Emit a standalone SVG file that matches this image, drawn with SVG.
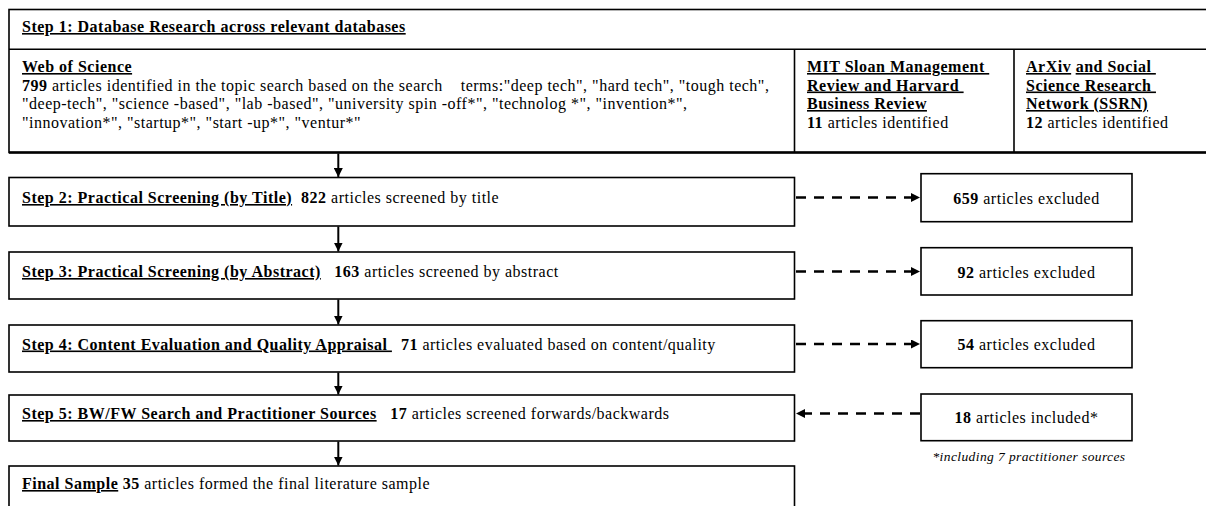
<svg xmlns="http://www.w3.org/2000/svg" width="1206" height="506" viewBox="0 0 1206 506">
<defs>
<style>
text{font-family:"Liberation Serif","Times New Roman",serif;font-size:16px;letter-spacing:0.5px;fill:#000;white-space:pre}
.b{font-weight:bold}
.u{text-decoration:underline}
.c{text-anchor:middle}
.fn{font-size:13.5px;font-style:italic;letter-spacing:0.4px}
.box{fill:#fff;stroke:#000;stroke-width:1.6}
.ln{stroke:#000;stroke-width:1.6;fill:none}
.arr{stroke:#000;stroke-width:2;fill:none}
.dash{stroke:#000;stroke-width:2.6;fill:none;stroke-dasharray:10 8}
</style>
<marker id="ah" viewBox="0 0 10 10" refX="10" refY="5" markerUnits="userSpaceOnUse" markerWidth="9" markerHeight="9" orient="auto">
<path d="M0,0 L10,5 L0,10 z" fill="#000"/>
</marker>
</defs>
<rect width="1206" height="506" fill="#fff"/>

<g id="step1">
<rect class="box" x="9" y="9.5" width="1210" height="143"/>
<line class="ln" x1="9" y1="49.3" x2="1206" y2="49.3"/>
<line x1="9" y1="152.5" x2="1206" y2="152.5" stroke="#000" stroke-width="2.6"/>
<text x="22" y="32" class="b u">Step 1: Database Research across relevant databases</text>
</g>

<g id="wos">
<text x="22" y="72" class="b u">Web of Science</text>
<text x="22" y="90.5"><tspan class="b">799</tspan> articles identified in the topic search based on the search    terms:"deep tech", "hard tech", "tough tech",</text>
<text x="22" y="109">"deep-tech", "science -based", "lab -based", "university spin -off*", "technolog *", "invention*",</text>
<text x="22" y="127.5">"innovation*", "startup*", "start -up*", "ventur*"</text>
</g>

<g id="mit">
<line class="ln" x1="794.5" y1="49.3" x2="794.5" y2="152.5"/>
<text x="807" y="72" class="b u">MIT Sloan Management </text>
<text x="807" y="90.5" class="b u">Review and Harvard </text>
<text x="807" y="109" class="b u">Business Review</text>
<text x="807" y="127.5"><tspan class="b">11</tspan> articles identified</text>
</g>

<g id="arxiv">
<line class="ln" x1="1014" y1="49.3" x2="1014" y2="152.5"/>
<text x="1026" y="72" class="b"><tspan class="u">ArXiv</tspan> <tspan class="u">and Social </tspan></text>
<text x="1026" y="90.5" class="b u">Science Research </text>
<text x="1026" y="109" class="b u">Network (SSRN)</text>
<text x="1026" y="127.5"><tspan class="b">12</tspan> articles identified</text>
</g>

<g id="step2">
<rect class="box" x="9" y="177.5" width="785.5" height="48.5"/>
<text x="22" y="203"><tspan class="b u">Step 2: Practical Screening (by Title)</tspan>  <tspan class="b">822</tspan> articles screened by title</text>
</g>

<g id="step3">
<rect class="box" x="9" y="252" width="785.5" height="47"/>
<text x="22" y="277"><tspan class="b u">Step 3: Practical Screening (by Abstract)</tspan>   <tspan class="b">163</tspan> articles screened by abstract</text>
</g>

<g id="step4">
<rect class="box" x="9" y="325" width="785.5" height="47"/>
<text x="22" y="349.5"><tspan class="b u">Step 4: Content Evaluation and Quality Appraisal </tspan>  <tspan class="b">71</tspan> articles evaluated based on content/quality</text>
</g>

<g id="step5">
<rect class="box" x="9" y="395" width="785.5" height="46"/>
<text x="22" y="419"><tspan class="b u">Step 5: BW/FW Search and Practitioner Sources</tspan>   <tspan class="b">17</tspan> articles screened forwards/backwards</text>
</g>

<g id="final">
<rect class="box" x="9" y="466" width="785.5" height="60"/>
<text x="22" y="489"><tspan class="b u">Final Sample</tspan> <tspan class="b">35</tspan> articles formed the final literature sample</text>
</g>

<g id="excl1">
<rect class="box" x="921" y="173.7" width="211" height="48"/>
<text x="1026.5" y="203.5" class="c"><tspan class="b">659</tspan> articles excluded</text>
</g>

<g id="excl2">
<rect class="box" x="921" y="247.7" width="211" height="47.3"/>
<text x="1026.5" y="277.5" class="c"><tspan class="b">92</tspan> articles excluded</text>
</g>

<g id="excl3">
<rect class="box" x="921" y="320.7" width="211" height="47"/>
<text x="1026.5" y="350" class="c"><tspan class="b">54</tspan> articles excluded</text>
</g>

<g id="incl">
<rect class="box" x="921" y="394" width="211" height="46.7"/>
<text x="1026.5" y="423" class="c"><tspan class="b">18</tspan> articles included*</text>
<text x="1029" y="461" class="c fn">*including 7 practitioner sources</text>
</g>

<g id="connectors">
<line class="arr" x1="338.3" y1="153.5" x2="338.3" y2="177" marker-end="url(#ah)"/>
<line class="arr" x1="338.3" y1="226.5" x2="338.3" y2="251.5" marker-end="url(#ah)"/>
<line class="arr" x1="338.3" y1="299.5" x2="338.3" y2="324.5" marker-end="url(#ah)"/>
<line class="arr" x1="338.3" y1="372.5" x2="338.3" y2="394.5" marker-end="url(#ah)"/>
<line class="arr" x1="338.3" y1="441.5" x2="338.3" y2="465.5" marker-end="url(#ah)"/>
<line class="dash" x1="796" y1="197.5" x2="920" y2="197.5" marker-end="url(#ah)"/>
<line class="dash" x1="796" y1="271.5" x2="920" y2="271.5" marker-end="url(#ah)"/>
<line class="dash" x1="796" y1="344" x2="920" y2="344" marker-end="url(#ah)"/>
<line class="dash" x1="920" y1="413.5" x2="796" y2="413.5" marker-end="url(#ah)"/>
</g>
</svg>
